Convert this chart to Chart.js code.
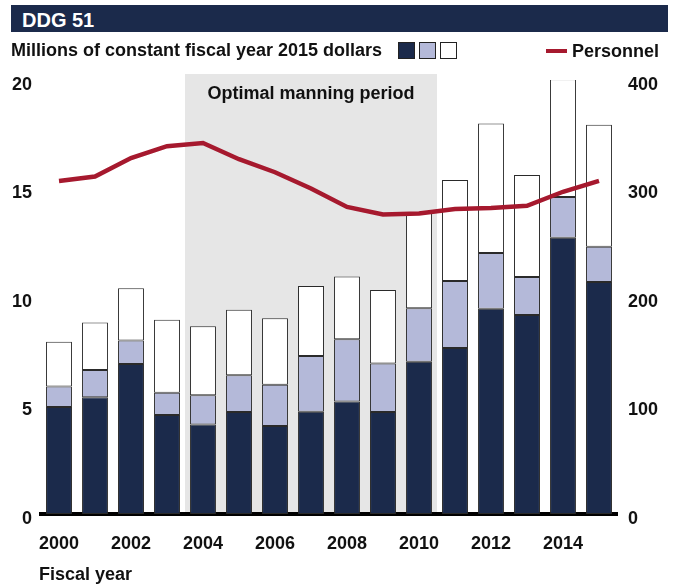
<!DOCTYPE html>
<html>
<head>
<meta charset="utf-8">
<script src="https://cdn.jsdelivr.net/npm/chart.js@4"></script>
<style>
  body { margin: 0; background: #fff; font-family: "Liberation Sans", Arial, sans-serif; }
  #wrap { position: relative; width: 683px; height: 587px; }
  #chart { position: absolute; left: 0; top: 0; }
  .lbl { position: absolute; font-weight: bold; font-size: 18px; line-height: 18px; color: #111; white-space: nowrap; }
  .title-bar { position: absolute; left: 11px; top: 5px; width: 657px; height: 27px; background: #1b2a4b; }
  .title { color: #fff; font-size: 20px; line-height: 20px; left: 22px; top: 10px; }
  .sq { position: absolute; top: 42px; width: 15px; height: 15px; border: 1px solid #222; }
  .pers-line { position: absolute; left: 546px; top: 49px; width: 21px; height: 4px; background: #a6192e; }
</style>
</head>
<body>
<div id="wrap">
  <canvas id="chart" width="683" height="587"></canvas>
  <div class="title-bar"></div>
  <div class="lbl title">DDG 51</div>
  <div class="lbl" style="left:11px;top:41px">Millions of constant fiscal year 2015 dollars</div>
  <div class="sq" style="left:398px;background:#1b2a4b"></div>
  <div class="sq" style="left:419px;background:#b4b9d9"></div>
  <div class="sq" style="left:440px;background:#fff"></div>
  <div class="pers-line"></div>
  <div class="lbl" style="left:572px;top:42px">Personnel</div>
  <div class="lbl" style="left:39px;top:565px">Fiscal year</div>
</div>
<script>
const years = ["2000","2001","2002","2003","2004","2005","2006","2007",
               "2008","2009","2010","2011","2012","2013","2014","2015"];
// stacked cost segments, millions of FY2015 dollars
const costNavy  = [4.93, 5.38, 6.91, 4.56, 4.12, 4.70, 4.06, 4.71, 5.18, 4.70, 7.02, 7.65, 9.46, 9.17, 12.73, 10.69];
const costLight = [0.94, 1.26, 1.09, 1.03, 1.35, 1.69, 1.90, 2.57, 2.87, 2.24, 2.46, 3.09, 2.57, 1.75, 1.88, 1.63];
const costWhite = [2.07, 2.18, 2.40, 3.36, 3.18, 3.02, 3.06, 3.23, 2.89, 3.38, 4.42, 4.65, 5.97, 4.70, 5.42, 5.62];
const personnel = [307, 311, 328, 339, 342, 327, 315, 300, 283, 276, 277, 281, 282, 284, 297, 307];
const leftTicks = [0, 5, 10, 15, 20];
const rightTicks = [0, 100, 200, 300, 400];
const shadeStart = 3.5, shadeEnd = 10.5;   // category index range of optimal manning period
const shadeLabel = "Optimal manning period";

const NAVY = "#1b2a4b", LAV = "#b4b9d9", RED = "#a6192e", EDGE = "#2a2a2a";
const FONT = "'Liberation Sans', Arial, sans-serif";
const tickFont = { family: FONT, size: 18, weight: "bold" };

// grey band behind everything, drawn before the axes so the zero line stays on top
const shadePlugin = {
  id: "shade",
  beforeDraw(chart) {
    const { ctx, scales: { x, y } } = chart;
    const x0 = x.getPixelForValue(shadeStart);
    const x1 = x.getPixelForValue(shadeEnd);
    const top = y.top - 6;
    ctx.save();
    ctx.fillStyle = "#e6e6e6";
    ctx.fillRect(x0, top, x1 - x0, y.bottom - top);
    ctx.fillStyle = "#111";
    ctx.font = "bold 18px " + FONT;
    ctx.textAlign = "center";
    ctx.textBaseline = "middle";
    ctx.fillText(shadeLabel, (x0 + x1) / 2, y.top + 14);
    ctx.restore();
  },
};

function barSet(label, data, color) {
  return {
    type: "bar", label, data, yAxisID: "y", stack: "cost", order: 1,
    backgroundColor: color, borderColor: EDGE, borderWidth: 1,
    borderSkipped: false, barPercentage: 0.72, categoryPercentage: 1,
  };
}

new Chart(document.getElementById("chart"), {
  data: {
    labels: years,
    datasets: [
      {
        type: "line", label: "Personnel", data: personnel, yAxisID: "y2", order: 0,
        borderColor: RED, borderWidth: 4.5, pointRadius: 0, tension: 0, fill: false,
      },
      barSet("navy", costNavy, NAVY),
      barSet("light", costLight, LAV),
      barSet("white", costWhite, "#ffffff"),
    ],
  },
  options: {
    responsive: false,
    animation: false,
    layout: { padding: { top: 80, left: 0, right: 0, bottom: 0 } },
    plugins: { legend: { display: false }, tooltip: { enabled: false } },
    scales: {
      x: {
        stacked: true,
        grid: { display: false, drawTicks: false },
        border: { display: true, color: "#000", width: 4 },
        ticks: {
          color: "#111", font: tickFont, padding: 19, autoSkip: false, maxRotation: 0,
          callback: (v, i) => (i % 2 === 0 ? years[i] : ""),
        },
        afterFit: (s) => { s.height = 73; },
      },
      y: {
        stacked: true, position: "left", min: 0, max: 20,
        grid: { display: false, drawTicks: false },
        border: { display: false },
        afterBuildTicks: (s) => { s.ticks = leftTicks.map((v) => ({ value: v })); },
        ticks: { color: "#111", font: tickFont, padding: 9, labelOffset: 5 },
        afterFit: (s) => { s.width = 41; },
      },
      y2: {
        position: "right", min: 0, max: 400,
        grid: { display: false, drawTicks: false },
        border: { display: false },
        afterBuildTicks: (s) => { s.ticks = rightTicks.map((v) => ({ value: v })); },
        ticks: { color: "#111", font: tickFont, padding: 11, labelOffset: 5 },
        afterFit: (s) => { s.width = 66; },
      },
    },
  },
  plugins: [shadePlugin],
});
</script>
</body>
</html>
